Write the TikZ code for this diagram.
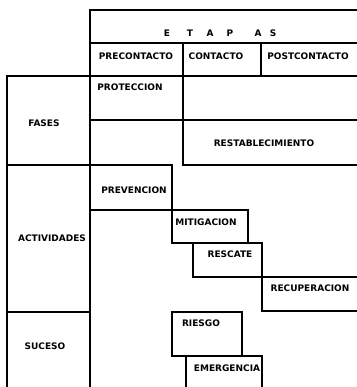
\documentclass[tikz,border=0pt]{standalone}
\usepackage{fontspec}
\setmainfont{DejaVu Sans}
\tikzset{
  rule/.style={line width=1.2pt, line cap=rect},
  lbl/.style={font=\bfseries\fontsize{9}{11}\selectfont, inner sep=0pt, anchor=center},
}
\begin{document}
\begin{tikzpicture}[x=1pt,y=-1pt]
\useasboundingbox (0,0) rectangle (356,387);
% header
\draw[rule] (90,10) -- (356,10);
\draw[rule] (90,43) -- (356,43);
\draw[rule] (90,10) -- (90,387);
\draw[rule] (183,43) -- (183,165);
\draw[rule] (261,43) -- (261,76);
\draw[rule] (7,76) -- (356,76);
\draw[rule] (7,76) -- (7,387);
% fases
\draw[rule] (90,120) -- (356,120);
\draw[rule] (7,165) -- (172,165);
\draw[rule] (183,165) -- (356,165);
% actividades
\draw[rule] (172,165) -- (172,243);
\draw[rule] (90,210) -- (248,210);
\draw[rule] (248,210) -- (248,243);
\draw[rule] (172,243) -- (262,243);
\draw[rule] (193,243) -- (193,277);
\draw[rule] (262,243) -- (262,311);
\draw[rule] (193,277) -- (356,277);
\draw[rule] (262,311) -- (356,311);
\draw[rule] (7,312) -- (90,312);
% suceso
\draw[rule] (172,312) rectangle (242,356);
\draw[rule] (172,356) -- (262,356);
\draw[rule] (186,356) -- (186,387);
\draw[rule] (262,356) -- (262,387);
% texts
\node[lbl] (e1) at (167,33) {E};
\node[lbl] (e2) at (190,33) {T};
\node[lbl] (e3) at (210,33) {A};
\node[lbl] (e4) at (230,33) {P};
\node[lbl] (e5) at (258,33) {A};
\node[lbl] (e6) at (273,33) {S};
\node[lbl] (pre) at (136,56) {PRECONTACTO};
\node[lbl] (con) at (216,56) {CONTACTO};
\node[lbl] (post) at (308,56) {POSTCONTACTO};
\node[lbl] (prot) at (130,87) {PROTECCION};
\node[lbl] (fases) at (44,123) {FASES};
\node[lbl] (rest) at (264,143) {RESTABLECIMIENTO};
\node[lbl] (prev) at (134,190) {PREVENCION};
\node[lbl] (mit) at (206,222) {MITIGACION};
\node[lbl] (act) at (52,238) {ACTIVIDADES};
\node[lbl] (resc) at (230,254) {RESCATE};
\node[lbl] (recu) at (310,288) {RECUPERACION};
\node[lbl] (suc) at (45,346) {SUCESO};
\node[lbl] (ries) at (201,323) {RIESGO};
\node[lbl] (emer) at (227,368) {EMERGENCIA};
\end{tikzpicture}
\end{document}
